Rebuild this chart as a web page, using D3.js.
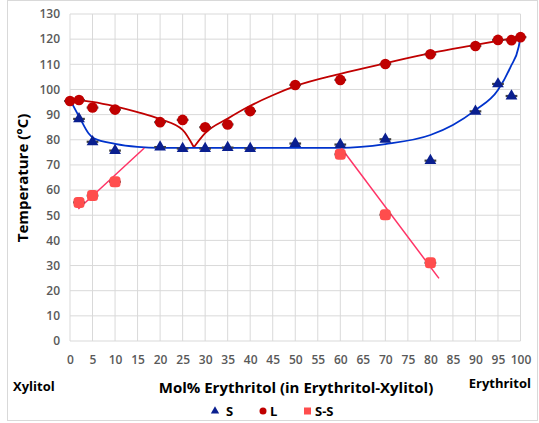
<!DOCTYPE html>
<html><head><meta charset="utf-8">
<script src="https://cdn.jsdelivr.net/npm/d3@7"></script>
<style>body{margin:0;background:#fff;} text{font-family:"Open Sans","Noto Sans",sans-serif;}</style>
</head><body>
<svg id="c" width="539" height="423"></svg>
<script>
const xTicks = d3.range(0, 101, 5);
const yTicks = d3.range(0, 131, 10);

const sData = [[2,88.3],[5,79.2],[10,75.7],[20,77.1],[25,76.5],[30,76.5],[35,76.9],[40,76.5],[50,78.5],[60,78.1],[70,80.2],[80,71.7],[90,91.3],[95,102.2],[98,97.4]];
const lData = [[0,95.4],[2,95.8],[5,92.8],[10,92],[20,87],[25,87.9],[30,85],[35,86.1],[40,91.4],[50,101.8],[60,103.8],[70,110.1],[80,114],[90,117.3],[95,119.7],[98,119.6],[100,120.8]];
const ssData = [[2,55.1],[5,57.8],[10,63.3],[60,74.2],[70,50.2],[80,31.1]];

const liqLeft = [[0,96.2],[5,95.1],[10,93.3],[15,91],[20,88.2],[25,83.9],[27.5,77]];
const liqRight = [[27.5,77],[30,82.6],[35,88.4],[40,93.5],[45,97.7],[50,101.3],[60,106.2],[70,110.4],[80,114.4],[90,117.7],[100,120.9]];
const solidus = [[0,96],[2.2,88.6],[4.1,82.6],[5.3,80.6],[10,78.4],[15,77.2],[20,76.8],[60,76.8],[70,78.3],[80,81.9],[85,85.9],[90,91.8],[95,99.8],[97.8,109],[99.6,117],[100,120.8]];
const ssLeft = [[1.85,52.5],[16.5,76.7]];
const ssRight = [[60.2,76.7],[81.9,24.9]];

const svg = d3.select("#c");
svg.append("rect").attr("x",7.5).attr("y",0.5).attr("width",530).attr("height",420).attr("fill","#fff").attr("stroke","#d9d9d9");

const x = d3.scaleLinear().domain([0,100]).range([70,520.5]);
const y = d3.scaleLinear().domain([0,130]).range([341,14]);

const g = svg.append("g");
g.selectAll(".vg").data(xTicks).join("line").attr("x1",d=>x(d)).attr("x2",d=>x(d)).attr("y1",y(0)).attr("y2",y(130)).attr("stroke","#d9d9d9").attr("stroke-width",1);
g.selectAll(".hg").data(yTicks).join("line").attr("x1",x(0)).attr("x2",x(100)).attr("y1",d=>y(d)).attr("y2",d=>y(d)).attr("stroke","#d9d9d9").attr("stroke-width",1);

const yAxis = d3.axisLeft(y).tickValues(yTicks).tickSize(0).tickPadding(10);
const ya = svg.append("g").attr("transform",`translate(${x(0)},0)`).call(yAxis);
ya.select(".domain").remove();
ya.selectAll("text").attr("fill","#595959").style("font-size","12px").style("font-weight","600").style("font-family","'Open Sans',sans-serif");

const xAxis = d3.axisBottom(x).tickValues(xTicks).tickSize(0).tickPadding(14);
const xa = svg.append("g").attr("transform",`translate(0,${y(0)})`).call(xAxis);
xa.select(".domain").remove();
xa.selectAll("text").attr("fill","#595959").style("font-size","12px").style("font-weight","600").style("font-family","'Open Sans',sans-serif");

const line = d3.line().x(d=>x(d[0])).y(d=>y(d[1]));
const sm = d3.line().x(d=>x(d[0])).y(d=>y(d[1])).curve(d3.curveMonotoneX);
svg.append("path").attr("d",sm(liqLeft)).attr("fill","none").attr("stroke","#c00000").attr("stroke-width",1.8);
svg.append("path").attr("d",sm(liqRight)).attr("fill","none").attr("stroke","#c00000").attr("stroke-width",1.8);
svg.append("path").attr("d",sm(solidus)).attr("fill","none").attr("stroke","#0033cc").attr("stroke-width",1.8);
svg.append("path").attr("d",line(ssLeft)).attr("fill","none").attr("stroke","#ff3366").attr("stroke-width",1.5);
svg.append("path").attr("d",line(ssRight)).attr("fill","none").attr("stroke","#ff3366").attr("stroke-width",1.5);

const eb = 1.3;
function errBars(data){
  svg.append("g").selectAll("line").data(data).join("line")
    .attr("x1",d=>x(d[0]-eb)).attr("x2",d=>x(d[0]+eb)).attr("y1",d=>y(d[1])).attr("y2",d=>y(d[1]))
    .attr("stroke","#404040").attr("stroke-width",2.2);
}
errBars(ssData); errBars(sData); errBars(lData);

svg.append("g").selectAll("rect").data(ssData).join("rect")
  .attr("x",d=>x(d[0])-5.5).attr("y",d=>y(d[1])-5.5).attr("width",11).attr("height",11).attr("rx",3.5)
  .attr("fill","#ff4d4d");
const tri = d3.symbol().type(d3.symbolTriangle).size(60);
svg.append("g").selectAll("path").data(sData).join("path")
  .attr("d",tri).attr("transform",d=>`translate(${x(d[0])},${y(d[1])})`).attr("fill","#0a1f8f");
svg.append("g").selectAll("circle").data(lData).join("circle")
  .attr("cx",d=>x(d[0])).attr("cy",d=>y(d[1])).attr("r",5.3).attr("fill","#c00000");

svg.append("text").attr("transform","translate(28,178) rotate(-90)").attr("text-anchor","middle")
  .style("font-size","15px").style("font-weight","700").attr("fill","#000").text("Temperature (°C)");
svg.append("text").attr("x",13).attr("y",391).style("font-size","13px").style("font-weight","700").attr("fill","#000").text("Xylitol");
svg.append("text").attr("x",531).attr("y",388).attr("text-anchor","end").style("font-size","13px").style("font-weight","700").attr("fill","#000").text("Erythritol");
svg.append("text").attr("x",296).attr("y",393).attr("text-anchor","middle").style("font-size","15px").style("font-weight","700").attr("fill","#000").text("Mol% Erythritol (in Erythritol-Xylitol)");

const lg = svg.append("g");
lg.append("path").attr("d",d3.symbol().type(d3.symbolTriangle).size(30)).attr("transform","translate(215,411)").attr("fill","#0a1f8f");
lg.append("text").attr("x",226).attr("y",416).style("font-size","13px").style("font-weight","700").text("S");
lg.append("circle").attr("cx",263).attr("cy",411).attr("r",3.5).attr("fill","#c00000");
lg.append("text").attr("x",270).attr("y",416).style("font-size","13px").style("font-weight","700").text("L");
lg.append("rect").attr("x",304).attr("y",407.5).attr("width",7).attr("height",7).attr("fill","#ff4d4d");
lg.append("text").attr("x",315).attr("y",416).style("font-size","13px").style("font-weight","700").text("S-S");
</script>
</body></html>
